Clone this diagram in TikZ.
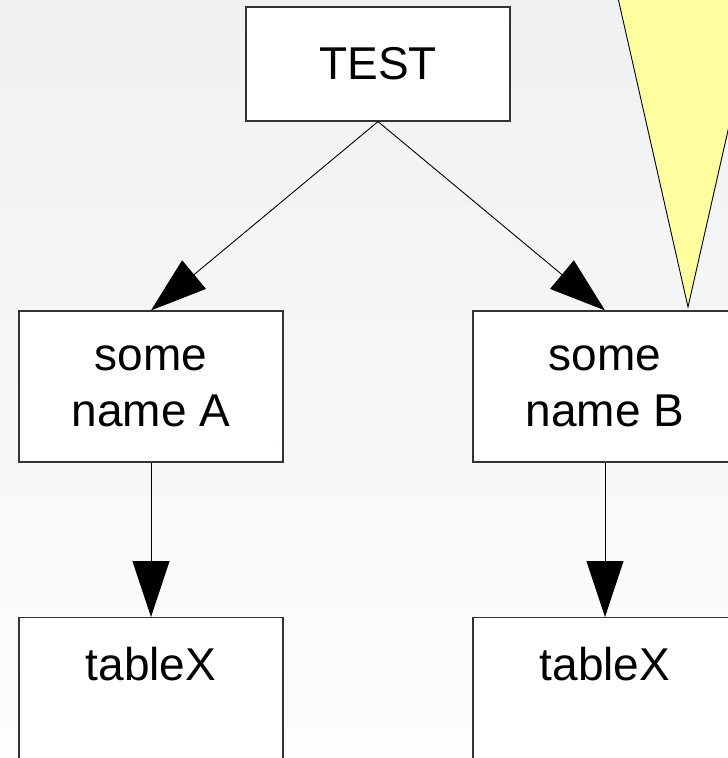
\documentclass[tikz,border=0pt]{standalone}
\usepackage{fontspec}
\setmainfont{Liberation Sans}
\usetikzlibrary{arrows.meta}
\definecolor{bgtop}{RGB}{239,240,242}
\definecolor{bgbot}{RGB}{253,253,253}
\definecolor{note}{RGB}{255,255,160}
\tikzset{
  box/.style={draw=black!80, line width=1.2pt, fill=white, inner sep=0pt,
    minimum width=264pt, align=center,
    font=\fontsize{46}{56}\selectfont},
  link/.style={draw=black, line width=0.9pt,
    -{Triangle[length=56pt, width=37pt]}},
}
\begin{document}
\begin{tikzpicture}[x=1pt, y=-1pt]
  \useasboundingbox (0,0) rectangle (728,758);
  \clip (0,0) rectangle (728,758);
  % backdrop
  \shade[top color=bgtop, bottom color=bgbot] (0,0) rectangle (728,758);

  % root and first level
  \node[box, minimum height=114pt] (test) at (378,64) {TEST};
  \node[box, minimum height=151pt] (nameA) at (151,386.5) {some\\name A};
  \node[box, minimum height=151pt] (nameB) at (605,386.5) {some\\name B};

  % second level, running past the lower edge
  \node[box, anchor=north, text height=63pt, text depth=150pt] (tabA) at (151,617) {tableX};
  \node[box, anchor=north, text height=63pt, text depth=150pt] (tabB) at (605,617) {tableX};

  % connectors
  \draw[link] (test.south) -- (nameA.north);
  \draw[link] (test.south) -- (nameB.north);
  \draw[link] (nameA.south) -- (tabA.north);
  \draw[link] (nameB.south) -- (tabB.north);

  % callout pointer
  \filldraw[fill=note, draw=black, line width=0.9pt, line join=miter]
    (618,-2) -- (688,307) -- (758,-2) -- cycle;
\end{tikzpicture}
\end{document}
